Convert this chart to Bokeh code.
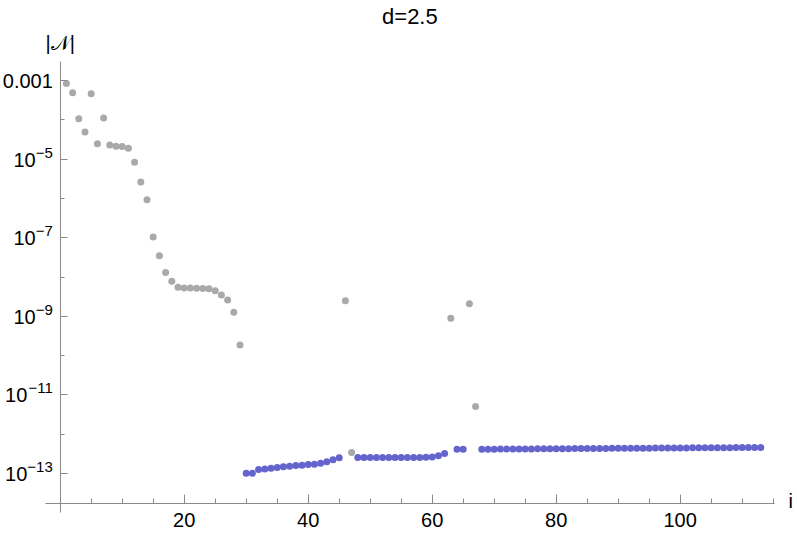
import math
from bokeh.plotting import figure
from bokeh.models import Range1d, FixedTicker, CustomJSTickFormatter, Label, ColumnDataSource
from bokeh.core.properties import value
from bokeh.embed import file_html
from bokeh.resources import INLINE

# ---- data ----
grey_i = [1, 2, 3, 4, 5, 6, 7, 8, 9, 10, 11, 12, 13, 14, 15, 16, 17, 18, 19, 20,
          21, 22, 23, 24, 25, 26, 27, 28, 29, 46, 47, 63, 66, 67]
grey_v = [8.4e-4, 4.9e-4, 1.07e-4, 4.9e-5, 4.6e-4, 2.45e-5, 1.12e-4, 2.3e-5, 2.14e-5, 2.1e-5,
          1.9e-5, 8.3e-6, 2.6e-6, 9.3e-7, 1.05e-7, 3.5e-8, 1.3e-8, 7.8e-9, 5.5e-9, 5.25e-9,
          5.25e-9, 5.2e-9, 5.1e-9, 5.0e-9, 4.5e-9, 3.5e-9, 2.6e-9, 1.26e-9, 1.86e-10,
          2.5e-9, 3.4e-13, 8.9e-10, 2.1e-9, 5.1e-12]

blue_i = (list(range(30, 46)) + list(range(48, 63)) + [64, 65] + list(range(68, 114)))
blue_v = [1.02e-13, 1.02e-13, 1.26e-13, 1.31e-13, 1.37e-13, 1.42e-13, 1.48e-13, 1.54e-13,
          1.60e-13, 1.63e-13, 1.69e-13, 1.73e-13, 1.83e-13, 1.98e-13, 2.23e-13, 2.51e-13,
          # 48..62
          2.54e-13, 2.54e-13, 2.55e-13, 2.55e-13, 2.55e-13, 2.55e-13, 2.56e-13, 2.56e-13,
          2.56e-13, 2.57e-13, 2.57e-13, 2.58e-13, 2.63e-13, 2.82e-13, 3.24e-13,
          # 64, 65
          4.15e-13, 4.15e-13,
          # 68..113
          4.15e-13, 4.16e-13, 4.17e-13, 4.18e-13, 4.19e-13, 4.20e-13, 4.21e-13, 4.22e-13,
          4.23e-13, 4.24e-13, 4.25e-13, 4.26e-13, 4.27e-13, 4.28e-13, 4.29e-13, 4.30e-13,
          4.31e-13, 4.32e-13, 4.33e-13, 4.34e-13, 4.35e-13, 4.36e-13, 4.37e-13, 4.38e-13,
          4.39e-13, 4.40e-13, 4.41e-13, 4.42e-13, 4.43e-13, 4.44e-13, 4.45e-13, 4.46e-13,
          4.47e-13, 4.48e-13, 4.49e-13, 4.50e-13, 4.51e-13, 4.52e-13, 4.53e-13, 4.54e-13,
          4.55e-13, 4.56e-13, 4.56e-13, 4.57e-13, 4.57e-13, 4.58e-13]

x_major = [20, 40, 60, 80, 100]
x_minor = [5, 10, 15, 25, 30, 35, 45, 50, 55, 65, 70, 75, 85, 90, 95, 105, 110, 115]
y_major = [1e-3, 1e-5, 1e-7, 1e-9, 1e-11, 1e-13]
y_minor = [1e-4, 1e-6, 1e-8, 1e-10, 1e-12]

title_text = "d=2.5"
ylabel_text = "|\U0001D4A9|"
xlabel_text = "i"

FONT = "Liberation Sans"
FS = "20px"
EXP_PX = 15
AXIS_COLOR = "#8a8a8a"

# whole canvas is the plotting frame; axes are drawn inside it
W, H = 797, 536
x0, x1 = -9.63, 118.92                # visible x span of the canvas
y0, y1 = 10 ** -14.603, 10 ** -0.964  # visible y span of the canvas
ax_x_bounds = (-2.4, 115.2)
ax_y_bounds = (10 ** -13.99, 10 ** -2.517)
x_axis_at = 10 ** -13.771

p = figure(output_backend="svg", toolbar_location=None, y_axis_type="log",
           frame_width=W, frame_height=H,
           min_border_left=0, min_border_right=0, min_border_top=0, min_border_bottom=0,
           x_range=Range1d(x0, x1), y_range=Range1d(y0, y1),
           background_fill_color="white", border_fill_color="white")
p.outline_line_color = None
p.grid.visible = False
p.title.visible = False

p.xaxis.fixed_location = x_axis_at
p.yaxis.fixed_location = 0
p.xaxis.bounds = ax_x_bounds
p.yaxis.bounds = ax_y_bounds

for ax in (p.xaxis, p.yaxis):
    ax.axis_line_color = AXIS_COLOR
    ax.major_tick_line_color = AXIS_COLOR
    ax.minor_tick_line_color = AXIS_COLOR
    ax.major_tick_out = 0
    ax.minor_tick_out = 0
    ax.major_label_text_font = FONT
    ax.major_label_text_font_size = FS
    ax.major_label_text_color = "black"

p.xaxis.ticker = FixedTicker(ticks=x_major, minor_ticks=x_minor)
p.xaxis.major_tick_in = 9
p.xaxis.minor_tick_in = 5
p.xaxis.major_label_standoff = 9

p.yaxis.ticker = FixedTicker(ticks=y_major, minor_ticks=y_minor)
p.yaxis.major_tick_in = 7
p.yaxis.minor_tick_in = 4
p.yaxis.formatter = CustomJSTickFormatter(code="return '';")

# y tick labels: "0.001" and 10 with a raised exponent, drawn as text
base_txt, exp_txt, base_off, exp_off = [], [], [], []
RIGHT = -7.4
for t in y_major:
    e = round(math.log10(t))
    if e == -3:
        base_txt.append("0.001")
        exp_txt.append("")
        base_off.append(RIGHT)
    else:
        s = "\u2212" + str(-e)
        w = EXP_PX * (0.584 + 0.556 * (len(s) - 1))
        base_txt.append("10")
        exp_txt.append(s)
        base_off.append(RIGHT - w)
    exp_off.append(RIGHT)

lab = ColumnDataSource(dict(x=[0] * len(y_major), y=y_major, base=base_txt, exp=exp_txt,
                            boff=base_off, eoff=exp_off))
p.text(x="x", y="y", text="base", source=lab, x_offset="boff", y_offset=0.5,
       text_align="right", text_baseline="alphabetic", text_font=value(FONT),
       text_font_size=FS, text_color="black")
p.text(x="x", y="y", text="exp", source=lab, x_offset="eoff", y_offset=-6.5,
       text_align="right", text_baseline="alphabetic", text_font=value(FONT),
       text_font_size=f"{EXP_PX}px", text_color="black")

p.scatter(grey_i, grey_v, size=7, color="#a9a9a9", line_color=None)
p.scatter(blue_i, blue_v, size=7, color="#6464cc", line_color=None)

p.add_layout(Label(x=sum(ax_x_bounds) / 2, y=ax_y_bounds[1], y_offset=45, text=title_text,
                   text_align="center", text_baseline="alphabetic", text_font=FONT,
                   text_font_size="22px", text_color="black"))
p.add_layout(Label(x=0, y=ax_y_bounds[1], y_offset=19, text=ylabel_text, text_align="center",
                   text_baseline="alphabetic", text_font=FONT, text_font_size=FS,
                   text_color="black"))
p.add_layout(Label(x=ax_x_bounds[1], y=x_axis_at, x_offset=14, y_offset=3, text=xlabel_text,
                   text_align="left", text_baseline="middle", text_font=FONT,
                   text_font_size=FS, text_color="black"))

open("out.html", "w").write(file_html(p, INLINE))
